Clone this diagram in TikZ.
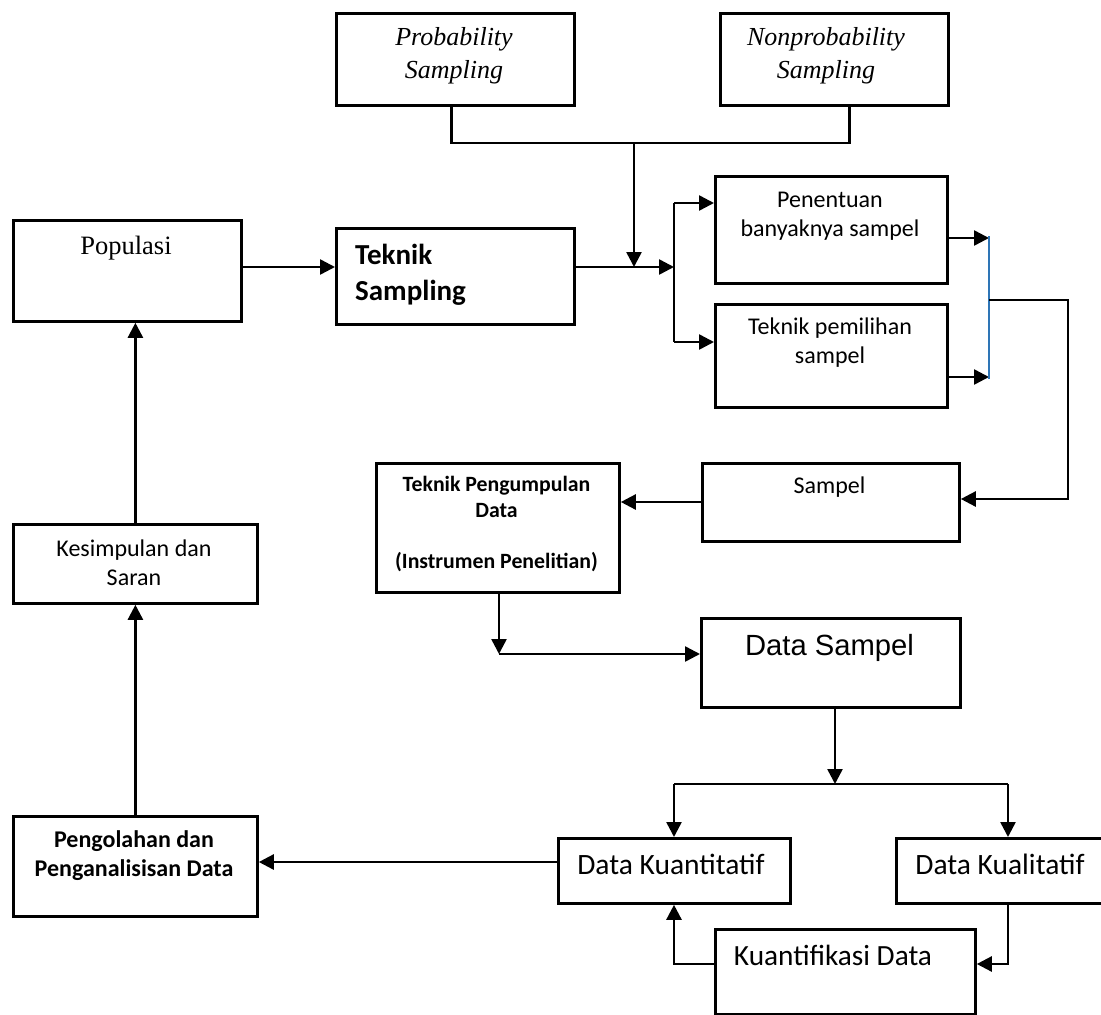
\documentclass[tikz,border=0pt]{standalone}
\usepackage{fontspec}
\setmainfont{Liberation Serif}
\newfontfamily\calib{Carlito}
\newfontfamily\arialf{Liberation Sans}
\usetikzlibrary{arrows.meta}
\definecolor{blueline}{RGB}{46,117,182}
\begin{document}
\begin{tikzpicture}[x=1pt,y=-1pt,
  box/.style={draw, line width=2.8pt, inner sep=0pt, anchor=north west},
  conn/.style={line width=2.5pt},
  arr/.style={conn, -{Triangle[length=15pt,width=15pt]}},
  txt/.style={inner sep=0pt, align=center, anchor=base}]
\fill[white] (0,0) rectangle (1101,1015);
\clip (0,0) rectangle (1101,1015);
% boxes
\node[box, minimum width=238pt, minimum height=92pt] (prob) at (335,12) {};
\node[box, minimum width=228pt, minimum height=92pt] (nonprob) at (719,12) {};
\node[box, minimum width=228pt, minimum height=101pt] (pop) at (12,219) {};
\node[box, minimum width=238pt, minimum height=96pt] (tek) at (335,227) {};
\node[box, minimum width=232pt, minimum height=107pt] (pen) at (714,175) {};
\node[box, minimum width=232pt, minimum height=103pt] (pem) at (714,303) {};
\node[box, minimum width=257pt, minimum height=78pt] (samp) at (701,462) {};
\node[box, minimum width=243pt, minimum height=129pt] (tpd) at (375,462) {};
\node[box, minimum width=259pt, minimum height=89pt] (ds) at (700,617) {};
\node[box, minimum width=244pt, minimum height=79pt] (kes) at (12,523) {};
\node[box, minimum width=244pt, minimum height=100pt] (peng) at (12,815) {};
\node[box, minimum width=232pt, minimum height=65pt] (dkuan) at (557,837) {};
\node[box, minimum width=215pt, minimum height=65pt] (dkual) at (895,837) {};
\node[box, minimum width=260pt, minimum height=85pt] (kuant) at (714,928) {};
% texts (anchor base = baseline of the last line)
\node[txt, font=\fontsize{26}{33}\selectfont\itshape] (probT) at (454,78) {Probability\\Sampling};
\node[txt, font=\fontsize{26}{33}\selectfont\itshape] (nonprobT) at (826,78) {Nonprobability\\Sampling};
\node[txt, font=\fontsize{26.5}{31}\selectfont] (popT) at (126,254) {Populasi};
\node[inner sep=0pt, align=left, anchor=base west, font=\calib\bfseries\fontsize{29}{36}\selectfont] (tekT) at (355,300) {Teknik\\Sampling};
\node[txt, font=\calib\fontsize{24}{29}\selectfont] (penT) at (830,236) {Penentuan\\banyaknya sampel};
\node[txt, font=\calib\fontsize{24}{29}\selectfont] (pemT) at (830,363) {Teknik pemilihan\\sampel};
\node[txt, font=\calib\fontsize{24}{29}\selectfont] (sampT) at (829.5,493) {Sampel};
\node[txt, font=\calib\bfseries\fontsize{21.8}{25.5}\selectfont] (tpdT) at (496.5,568) {Teknik Pengumpulan\\Data\\[25.5pt](Instrumen Penelitian)};
\node[txt, font=\arialf\fontsize{29.2}{33}\selectfont] (dsT) at (829.5,655) {Data Sampel};
\node[txt, font=\calib\fontsize{24}{29}\selectfont] (kesT) at (134,585) {Kesimpulan dan\\Saran};
\node[txt, font=\calib\bfseries\fontsize{24}{29}\selectfont] (pengT) at (134,876) {Pengolahan dan\\Penganalisisan Data};
\node[txt, font=\calib\fontsize{29.5}{33}\selectfont] (dkuanT) at (671,874) {Data Kuantitatif};
\node[txt, font=\calib\fontsize{29.5}{33}\selectfont] (dkualT) at (1000,874) {Data Kualitatif};
\node[txt, font=\calib\fontsize{29.3}{33}\selectfont] (kuantT) at (833,965) {Kuantifikasi Data};
% connectors
\coordinate (j1) at (634,143);
\coordinate (j2) at (634,267);
\draw[conn] ([xshift=-4pt]prob.south) |- (j1) -| ([xshift=15pt]nonprob.south);
\draw[arr] (j1) -- (j2);
\draw[arr] (pop.east |- j2) -- (tek.west |- j2);
\coordinate (b) at (674,267);
\coordinate (b1) at (674,203);
\coordinate (b2) at (674,342);
\draw[arr] (tek.east |- b) -- (b);
\draw[conn] (b1) -- (b2);
\draw[arr] (b1) -- (b1 -| pen.west);
\draw[arr] (b2) -- (b2 -| pem.west);
\coordinate (m1) at (989,238);
\coordinate (m2) at (989,377);
\coordinate (m3) at (989,300);
\draw[arr] (m1 -| pen.east) -- (m1);
\draw[arr] (m2 -| pem.east) -- (m2);
\draw[blueline, line width=2.5pt] (989,236) -- (989,379);
\coordinate (r1) at (1068,499);
\draw[arr] (m3) -| (r1) -- (r1 -| samp.east);
\coordinate (s1) at (660,502);
\draw[arr] (s1 -| samp.west) -- (s1 -| tpd.east);
\coordinate (t1) at (499,654);
\draw[arr] (tpd.south -| t1) -- (t1);
\draw[arr] (t1) -- (t1 -| ds.west);
\coordinate (d1) at (835,784);
\coordinate (d2) at (674,784);
\coordinate (d3) at (1008,784);
\draw[arr] (ds.south -| d1) -- (d1);
\draw[conn] (d2) -- (d3);
\draw[arr] (d2) -- (d2 |- dkuan.north);
\draw[arr] (d3) -- (d3 |- dkual.north);
\coordinate (p1) at (400,862);
\draw[arr] (p1 -| dkuan.west) -- (p1 -| peng.east);
\draw[arr] (peng.north) -- (kes.south);
\draw[arr] (kes.north) -- (pop.south -| kes.north);
\coordinate (k1) at (674,964);
\coordinate (k2) at (1008,964);
\draw[arr] (k1 -| kuant.west) -- (k1) -- (k1 |- dkuan.south);
\draw[arr] (k2 |- dkual.south) -- (k2) -- (k2 -| kuant.east);
\end{tikzpicture}
\end{document}
